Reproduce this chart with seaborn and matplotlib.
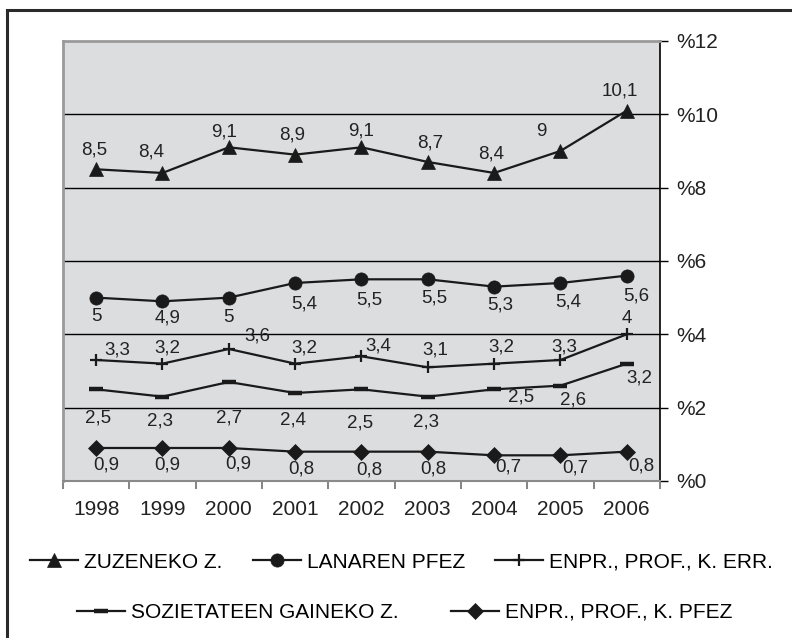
import numpy as np
import seaborn as sns
import matplotlib.pyplot as plt
from matplotlib.patches import Rectangle

plt.rcParams['font.family'] = ['Liberation Sans', 'DejaVu Sans']

# datuak
years = [1998, 1999, 2000, 2001, 2002, 2003, 2004, 2005, 2006]
zuzeneko = [8.5, 8.4, 9.1, 8.9, 9.1, 8.7, 8.4, 9.0, 10.1]
lanaren = [5.0, 4.9, 5.0, 5.4, 5.5, 5.5, 5.3, 5.4, 5.6]
enpr_err = [3.3, 3.2, 3.6, 3.2, 3.4, 3.1, 3.2, 3.3, 4.0]
sozietateen = [2.5, 2.3, 2.7, 2.4, 2.5, 2.3, 2.5, 2.6, 3.2]
enpr_pfez = [0.9, 0.9, 0.9, 0.8, 0.8, 0.8, 0.7, 0.7, 0.8]
names = ['ZUZENEKO Z.', 'LANAREN PFEZ', 'ENPR., PROF., K. ERR.',
         'SOZIETATEEN GAINEKO Z.', 'ENPR., PROF., K. PFEZ']
y_ticks = [0, 2, 4, 6, 8, 10, 12]

# marker estiloak
styles = [
    dict(marker='^', markersize=10, markeredgewidth=0.5),
    dict(marker='o', markersize=9.5, markeredgewidth=0.5),
    dict(marker='+', markersize=9, markeredgewidth=1.6),
    dict(marker='_', markersize=10, markeredgewidth=3.2),
    dict(marker='D', markersize=8, markeredgewidth=0.5),
]

# etiketen desplazamenduak (pixeletan, x eskuinera, y behera)
offsets = [
    [(-2, -19), (-11, -21), (-5, -15), (-3, -20), (0, -16), (2, -19), (-3, -19), (-19, -19), (-7, -20)],
    [(0, 19), (5, 17), (0, 20), (9, 21), (8, 21), (6, 19), (6, 18), (8, 19), (9, 20)],
    [(21, -10), (5, -16), (29, -13), (9, -16), (17, -10), (7, -17), (7, -17), (4, -13), (0, -16)],
    [(2, 29), (-2, 24), (0, 36), (-2, 27), (-1, 34), (-2, 25), (27, 8), (13, 14), (13, 14)],
    [(10, 17), (5, 17), (9, 16), (6, 17), (8, 18), (6, 17), (14, 12), (15, 13), (15, 14)],
]

series = [zuzeneko, lanaren, enpr_err, sozietateen, enpr_pfez]
col = '#1a1a1a'

fig = plt.figure(figsize=(7.92, 6.38), dpi=100)
ax = fig.add_axes([0.0795, 0.2461, 0.7538, 0.6897])
ax.set_facecolor('#dcdddf')

# lerro horizontalak
for t in y_ticks[1:-1]:
    ax.axhline(t, color='black', lw=1, zorder=1)

handles = []
for vals, st, offs in zip(series, styles, offsets):
    sns.lineplot(x=years, y=vals, ax=ax, color=col, lw=1.6,
                 markerfacecolor=col, markeredgecolor=col, zorder=3, **st)
    handles.append(ax.lines[-1])
    for x, v, (dx, dy) in zip(years, vals, offs):
        ax.annotate(f'{v:g}'.replace('.', ','), (x, v), xytext=(dx, -dy),
                    textcoords='offset pixels', ha='center', va='center',
                    fontsize=13.5, color='#222222')

ax.set_xlim(years[0] - 0.5, years[-1] + 0.5)
ax.set_ylim(0, 12)

# ardatzak
ax.yaxis.tick_right()
ax.set_yticks(y_ticks)
ax.set_yticklabels([f'%{t}' for t in y_ticks])
ax.tick_params(axis='y', length=6, width=1, color='black', pad=6, labelsize=15, labelcolor='#222222')
ax.set_xticks(years)
ax.set_xticklabels([str(y) for y in years])
ax.set_xticks([y - 0.5 for y in years] + [years[-1] + 0.5], minor=True)
ax.tick_params(axis='x', which='major', length=0, pad=13.5, labelsize=15, labelcolor='#222222')
ax.tick_params(axis='x', which='minor', length=6, width=1.2, color='#707070')
ax.set_xlabel('')
ax.set_ylabel('')

for s in ['left', 'top']:
    ax.spines[s].set_color('#9a9a9a')
    ax.spines[s].set_linewidth(2)
ax.spines['bottom'].set_color('#8a8a8a')
ax.spines['bottom'].set_linewidth(1.5)
ax.spines['right'].set_color('black')
ax.spines['right'].set_linewidth(1.2)

# legenda bi lerrotan
fig.legend(handles[:3], names[:3], loc='center', bbox_to_anchor=(0.507, 0.119),
           ncol=3, frameon=False, fontsize=15, handlelength=2.3, handletextpad=0.3,
           columnspacing=1.45, borderpad=0, borderaxespad=0)
fig.legend(handles[3:], names[3:], loc='center', bbox_to_anchor=(0.511, 0.040),
           ncol=2, frameon=False, fontsize=15, handlelength=2.3, handletextpad=0.3,
           columnspacing=2.5, borderpad=0, borderaxespad=0)

# kanpoko markoa
fig.add_artist(Rectangle((7 / 792, -0.1), 1.2, 1.1 - 10 / 638, transform=fig.transFigure,
                         fill=False, edgecolor='#2a2a2a', lw=2.2))

fig.savefig('out.png', dpi=100)
